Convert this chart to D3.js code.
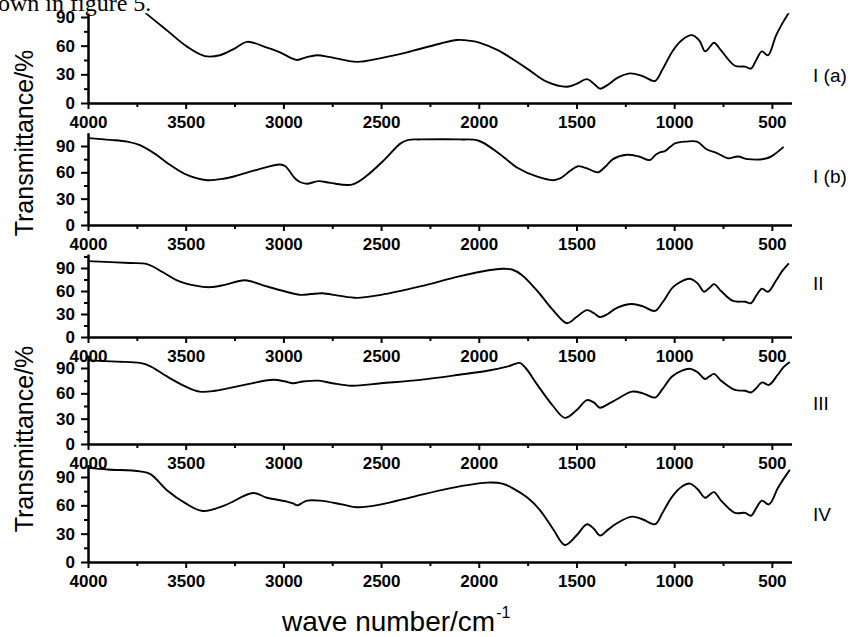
<!DOCTYPE html>
<html>
<head>
<meta charset="utf-8">
<script src="https://d3js.org/d3.v7.min.js"></script>
<style>
  body { margin: 0; background: #fff; }
  svg text { font-family: "Liberation Sans", Arial, sans-serif; fill: #000; }
  .tick text { font-size: 17px; font-weight: bold; }
  .tick line, .domain { stroke: #000; stroke-width: 2px; }
  .curve { fill: none; stroke: #000; stroke-width: 1.9px; }
  .panel-label { font-size: 19px; }
  .axis-title { font-size: 25px; }
</style>
</head>
<body>
<script>
// ---- data: [wave number, transmittance %] ----
var panelLabels = ["I (a)", "I (b)", "II", "III", "IV"];
var xTicks = [4000, 3500, 3000, 2500, 2000, 1500, 1000, 500];
var xMinor = [3750, 3250, 2750, 2250, 1750, 1250, 750];
var yTicks = [0, 30, 60, 90];
var yMinor = [15, 45, 75, 105];

var spectrumIa = [
  [3720, 97], [3698, 93], [3596, 76], [3493, 59], [3401, 49], [3325, 50], [3250, 57],
  [3186, 64], [3084, 58], [3017, 53], [2960, 47], [2930, 45], [2880, 48], [2828, 50],
  [2760, 48], [2623, 43], [2500, 47], [2367, 53], [2330, 55], [2200, 62], [2112, 66],
  [2040, 65], [1994, 63], [1900, 55], [1753, 36], [1650, 22], [1549, 17], [1500, 20],
  [1446, 25], [1410, 20], [1380, 15], [1340, 19], [1293, 26], [1226, 31], [1160, 28],
  [1098, 23], [1060, 35], [1006, 55], [960, 66], [909, 71], [870, 65], [842, 54],
  [820, 58], [796, 63], [760, 55], [689, 39], [637, 38], [607, 36], [580, 45],
  [551, 54], [520, 50], [480, 70], [450, 82], [418, 93], [405, 97]
];
var spectrumIb = [
  [4000, 99], [3887, 97], [3800, 95], [3734, 91], [3650, 80], [3596, 71], [3493, 57],
  [3391, 51], [3300, 53], [3258, 55], [3150, 62], [3017, 69], [2990, 67], [2940, 53],
  [2915, 49], [2880, 47], [2820, 50], [2760, 48], [2650, 46], [2580, 55], [2480, 75],
  [2400, 93], [2360, 97], [2300, 97.5], [2100, 97.5], [2000, 96], [1900, 82], [1800, 65],
  [1700, 55], [1620, 51], [1584, 53], [1530, 62], [1492, 67], [1440, 64], [1390, 60],
  [1350, 67], [1313, 75], [1242, 80], [1180, 78], [1124, 74], [1095, 80], [1070, 83],
  [1050, 84], [1020, 89], [996, 93], [940, 95], [883, 95], [832, 86], [781, 82],
  [725, 76], [674, 78], [622, 75], [525, 76], [490, 80], [440, 89]
];
var spectrumII = [
  [4000, 99], [3785, 96.5], [3698, 95], [3620, 85], [3545, 74], [3450, 67], [3376, 65],
  [3300, 68], [3197, 74], [3100, 67], [3000, 60], [2915, 55], [2860, 56], [2800, 57],
  [2720, 54], [2623, 51], [2500, 55], [2300, 66], [2100, 79], [1950, 87], [1880, 89],
  [1830, 88], [1780, 81], [1700, 60], [1620, 35], [1549, 18], [1500, 26], [1446, 35],
  [1410, 31], [1380, 26], [1340, 30], [1293, 38], [1216, 43], [1160, 40], [1098, 34],
  [1060, 45], [1006, 65], [960, 73], [919, 76], [880, 70], [847, 59], [820, 64],
  [796, 69], [760, 60], [699, 47], [637, 46], [607, 44], [580, 54], [551, 63],
  [520, 59], [480, 73], [450, 85], [413, 96]
];
var spectrumIII = [
  [4000, 99], [3850, 97.5], [3734, 96], [3680, 92], [3596, 80], [3500, 68], [3427, 62],
  [3350, 63], [3200, 70], [3053, 76], [2990, 74], [2951, 72], [2900, 74], [2820, 75],
  [2750, 72], [2650, 69], [2500, 72], [2300, 76], [2100, 82], [1950, 87], [1850, 92],
  [1790, 96], [1760, 90], [1700, 70], [1620, 45], [1559, 31], [1500, 40], [1446, 52],
  [1410, 49], [1380, 43], [1340, 47], [1293, 53], [1216, 62], [1160, 60], [1098, 55],
  [1060, 65], [1011, 80], [960, 87], [919, 89], [880, 85], [842, 77], [820, 80],
  [796, 83], [760, 75], [689, 64], [637, 63], [607, 61], [580, 66], [551, 73],
  [515, 70], [470, 82], [440, 91], [408, 97]
];
var spectrumIV = [
  [4000, 99.7], [3900, 98], [3734, 96], [3680, 93], [3596, 76], [3500, 62], [3412, 54],
  [3300, 60], [3155, 73], [3084, 68], [2982, 64], [2950, 62], [2930, 60], [2900, 63],
  [2879, 65], [2813, 65], [2700, 61], [2623, 58], [2500, 61], [2337, 69], [2150, 78],
  [1958, 84], [1880, 83], [1825, 78], [1750, 68], [1687, 55], [1620, 35], [1559, 18],
  [1500, 28], [1446, 40], [1410, 35], [1380, 28], [1340, 34], [1293, 41], [1216, 48],
  [1160, 45], [1098, 40], [1060, 52], [1011, 69], [960, 80], [919, 83], [880, 77],
  [842, 68], [820, 71], [796, 74], [760, 65], [689, 52], [637, 52], [607, 49],
  [580, 57], [551, 65], [515, 61], [470, 78], [440, 88], [408, 97.5]
];
var spectra = [spectrumIa, spectrumIb, spectrumII, spectrumIII, spectrumIV];

// ---- layout ----
var W = 859, H = 637;
// y0 = pixel of 0 %, y90 = pixel of 90 %, top = value at the top of the y axis
var panels = [
  {y0: 103, y90: 17,  top: 94,  labelY: 82},
  {y0: 225, y90: 146, top: 105, labelY: 183},
  {y0: 337, y90: 268, top: 108, labelY: 290},
  {y0: 444, y90: 368, top: 105, labelY: 410},
  {y0: 562, y90: 477, top: 103, labelY: 521}
];

var svg = d3.select("body").append("svg")
    .attr("width", W)
    .attr("height", H);

// text above the figure, cut off in the original
svg.append("text")
    .attr("x", -2)
    .attr("y", 11)
    .style("font-family", "'Liberation Serif', 'Times New Roman', serif")
    .style("font-size", "24px")
    .text("own in figure 5.");

var x = d3.scaleLinear().domain([4000, 400]).range([88, 791.4]);

var line = d3.line()
    .x(d => x(d[0]))
    .curve(d3.curveCatmullRom.alpha(0.5));

panels.forEach(function(p, i) {
  var yTop = p.y0 - p.top * (p.y0 - p.y90) / 90;
  var y = d3.scaleLinear().domain([0, p.top]).range([p.y0, yTop]);
  var g = svg.append("g");

  g.append("clipPath").attr("id", "clip" + i)
    .append("rect")
      .attr("x", 88).attr("y", yTop)
      .attr("width", 791.4 - 88).attr("height", p.y0 - yTop);

  // minor ticks first, then the labelled ones
  g.append("g")
      .attr("transform", "translate(0," + p.y0 + ")")
      .call(d3.axisBottom(x).tickValues(xMinor).tickSize(4).tickFormat("").tickSizeOuter(0));
  g.append("g")
      .attr("transform", "translate(0," + p.y0 + ")")
      .call(d3.axisBottom(x).tickValues(xTicks).tickSize(6).tickPadding(7)
        .tickFormat(d3.format("d")).tickSizeOuter(0));

  g.append("g")
      .attr("transform", "translate(88,0)")
      .call(d3.axisLeft(y).tickValues(yMinor.filter(v => v < p.top)).tickSize(4).tickFormat("").tickSizeOuter(0));
  g.append("g")
      .attr("transform", "translate(88,0)")
      .call(d3.axisLeft(y).tickValues(yTicks).tickSize(7).tickPadding(6).tickSizeOuter(0));

  g.append("path")
      .datum(spectra[i])
      .attr("class", "curve")
      .attr("clip-path", "url(#clip" + i + ")")
      .attr("d", line.y(d => y(d[1])));

  g.append("text")
      .attr("class", "panel-label")
      .attr("x", 813)
      .attr("y", p.labelY)
      .text(panelLabels[i]);
});

// axis titles
[143, 439].forEach(function(cy) {
  svg.append("text")
      .attr("class", "axis-title")
      .attr("text-anchor", "middle")
      .attr("transform", "translate(33," + cy + ") rotate(-90)")
      .text("Transmittance/%");
});

var xt = svg.append("text")
    .attr("x", 282)
    .attr("y", 631)
    .style("font-size", "28px")
    .text("wave number/cm");
var len = xt.node().getComputedTextLength();
svg.append("text")
    .attr("x", 282 + len + 1)
    .attr("y", 618)
    .style("font-size", "16px")
    .text("-1");
</script>
</body>
</html>
